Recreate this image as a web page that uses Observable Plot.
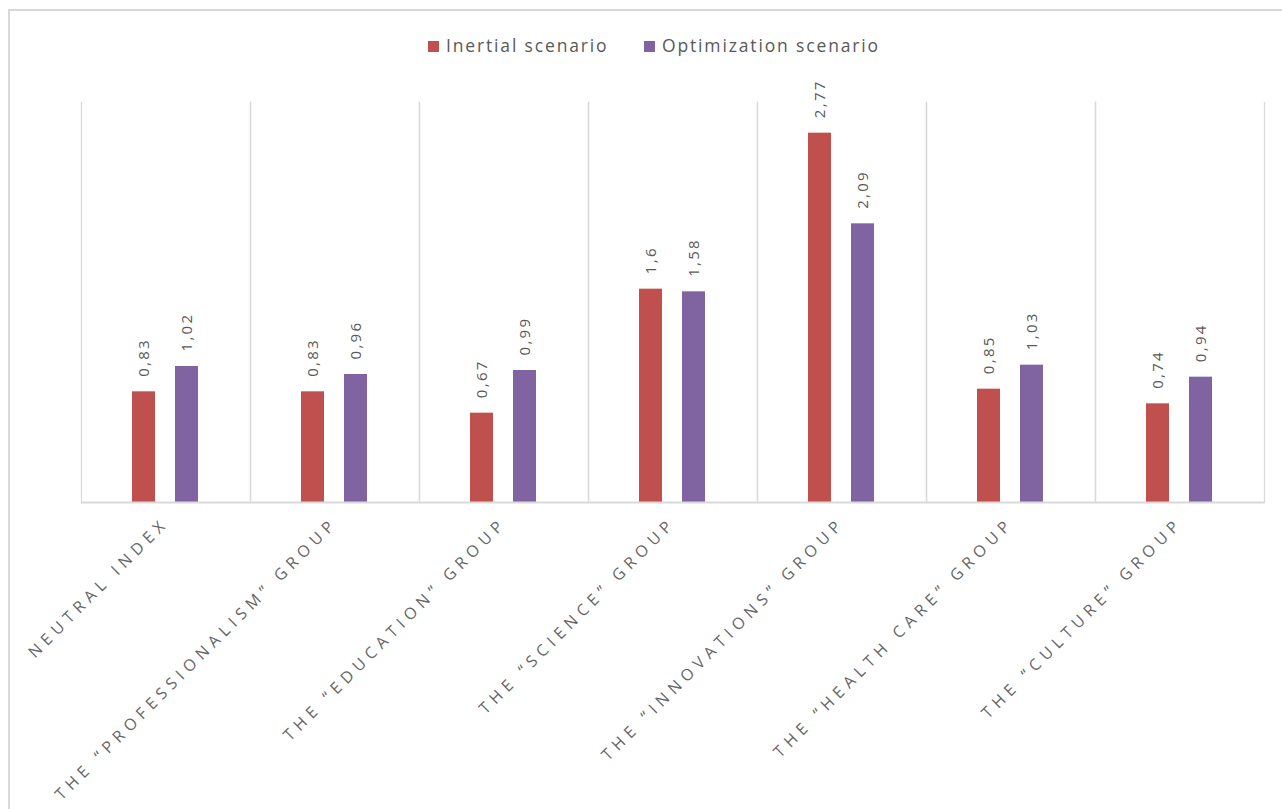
<!DOCTYPE html>
<html>
<head>
<meta charset="utf-8">
<script src="https://cdn.jsdelivr.net/npm/d3@7"></script>
<script src="https://cdn.jsdelivr.net/npm/@observablehq/plot@0.6"></script>
<style>
  html, body { margin: 0; padding: 0; background: #fff; width: 1282px; height: 809px; overflow: hidden; }
  #border { position: absolute; left: 8px; top: 9px; width: 1300px; height: 900px; border: 2px solid #d9d9d9; box-sizing: border-box; }
  #chart { position: absolute; left: 0; top: 0; }
  #legend { position: absolute; left: 0; top: 33px; width: 1282px; height: 26px; font-family: "Open Sans", sans-serif; font-size: 17.5px; color: #595959; }
  .item { position: absolute; top: 0; white-space: nowrap; letter-spacing: 1.85px; }
  .sw { display: inline-block; width: 11px; height: 11px; margin-right: 7px; vertical-align: 0px; }
  g[aria-label="text"] text { letter-spacing: 2.3px; }
  g[aria-label="fx-axis tick label"] text { letter-spacing: 5.4px; }
</style>
</head>
<body>
<div id="border"></div>
<div id="chart"></div>
<div id="legend"></div>
<script>
const categories = [
  "NEUTRAL INDEX",
  "THE “PROFESSIONALISM” GROUP",
  "THE “EDUCATION” GROUP",
  "THE “SCIENCE” GROUP",
  "THE “INNOVATIONS” GROUP",
  "THE “HEALTH CARE” GROUP",
  "THE “CULTURE” GROUP"
];
const seriesNames = ["Inertial scenario", "Optimization scenario"];
const seriesColors = ["#c0504d", "#8064a2"];
const inertial = [0.83, 0.83, 0.67, 1.6, 2.77, 0.85, 0.74];
const optimization = [1.02, 0.96, 0.99, 1.58, 2.09, 1.03, 0.94];

const rows = [];
categories.forEach((c, i) => {
  rows.push({category: c, series: seriesNames[0], value: inertial[i]});
  rows.push({category: c, series: seriesNames[1], value: optimization[i]});
});

const fmt = v => String(v).replace(".", ",");
const grid = "#d9d9d9";
const labelColor = "#595959";

const chart = Plot.plot({
  width: 1282,
  height: 809,
  marginTop: 102,
  marginBottom: 307,
  marginLeft: 80,
  marginRight: 18,
  style: {fontFamily: "'Open Sans', sans-serif", background: "transparent"},
  fx: {domain: categories, padding: 0, label: null},
  x: {domain: seriesNames, paddingInner: 0.465, paddingOuter: 1.1975, axis: null},
  y: {domain: [0, 3], axis: null},
  color: {domain: seriesNames, range: seriesColors},
  marks: [
    Plot.frame({anchor: "left", stroke: grid, strokeWidth: 1.3}),
    Plot.frame({anchor: "right", stroke: grid, strokeWidth: 1.3}),
    Plot.barY(rows, {fx: "category", x: "series", y: "value", fill: "series"}),
    Plot.ruleY([0], {stroke: grid, strokeWidth: 2}),
    Plot.text(rows, {
      fx: "category", x: "series", y: "value",
      text: d => fmt(d.value),
      rotate: -90, textAnchor: "start", dy: -15,
      fill: labelColor, fontSize: 15
    }),
    Plot.axisFx({
      anchor: "bottom", tickRotate: -45, tickSize: 0, tickPadding: 18,
      fontSize: 16, fill: "#666666", label: null
    })
  ]
});
document.getElementById("chart").appendChild(chart);

// legend using the chart's colour scale
const color = chart.scale("color");
const legend = document.getElementById("legend");
const lefts = [428, 644];
color.domain.forEach((name, i) => {
  const item = document.createElement("div");
  item.className = "item";
  item.style.left = lefts[i] + "px";
  const sw = document.createElement("span");
  sw.className = "sw";
  sw.style.background = color.range[i];
  item.appendChild(sw);
  item.appendChild(document.createTextNode(name));
  legend.appendChild(item);
});
</script>
</body>
</html>
